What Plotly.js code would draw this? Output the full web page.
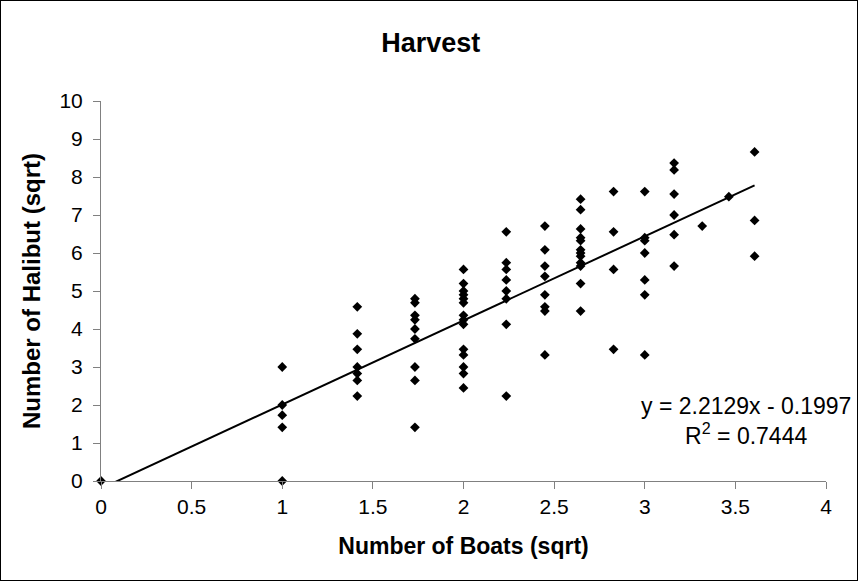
<!DOCTYPE html>
<html>
<head>
<meta charset="utf-8">
<script src="https://cdn.plot.ly/plotly-3.0.1.min.js"></script>
<style>
  html, body { margin: 0; padding: 0; background: #fff; }
  #chart { width: 856px; height: 579px; border: 1px solid #000; }
</style>
</head>
<body>
<div id="chart"></div>
<script>
// Number of Boats (sqrt) for each point
var boatsSqrt = [
  0,
  1, 1, 1, 1, 1,
  1.414, 1.414, 1.414, 1.414, 1.414, 1.414, 1.414,
  1.732, 1.732, 1.732, 1.732, 1.732, 1.732, 1.732, 1.732, 1.732,
  2, 2, 2, 2, 2, 2, 2, 2, 2, 2, 2, 2, 2, 2,
  2.236, 2.236, 2.236, 2.236, 2.236, 2.236, 2.236, 2.236,
  2.449, 2.449, 2.449, 2.449, 2.449, 2.449, 2.449, 2.449,
  2.646, 2.646, 2.646, 2.646, 2.646, 2.646, 2.646, 2.646, 2.646, 2.646, 2.646, 2.646,
  2.828, 2.828, 2.828, 2.828,
  3, 3, 3, 3, 3, 3, 3,
  3.162, 3.162, 3.162, 3.162, 3.162, 3.162,
  3.317,
  3.464,
  3.606, 3.606, 3.606
];
// Number of Halibut (sqrt) for each point
var halibutSqrt = [
  0,
  0, 1.414, 1.732, 2, 3,
  4.583, 3.873, 3.464, 3, 2.828, 2.646, 2.236,
  4.796, 4.690, 4.359, 4.243, 4, 3.742, 3, 2.646, 1.414,
  5.568, 5.196, 5, 4.899, 4.796, 4.690, 4.359, 4.243, 4.123, 3.464, 3.317, 3, 2.828, 2.449,
  6.557, 5.745, 5.568, 5.292, 5, 4.796, 4.123, 2.236,
  6.708, 6.083, 5.657, 5.385, 4.899, 4.583, 4.472, 3.317,
  7.416, 7.141, 6.633, 6.403, 6.325, 6.083, 6, 5.916, 5.745, 5.657, 5.196, 4.472,
  7.616, 6.557, 5.568, 3.464,
  7.616, 6.403, 6.325, 6, 5.292, 4.899, 3.317,
  8.367, 8.185, 7.550, 7, 6.481, 5.657,
  6.708,
  7.483,
  8.660, 6.856, 5.916
];
// Linear trendline as printed on the chart
var trendSlope = 2.2129;
var trendIntercept = -0.1997;
var trendText = "y = 2.2129x - 0.1997<br>R<sup>2</sup> = 0.7444";

var xMin = Math.min.apply(null, boatsSqrt);
var xMax = Math.max.apply(null, boatsSqrt);
var trendX = [xMin, xMax];
var trendY = trendX.map(function (v) { return trendSlope * v + trendIntercept; });

var FONT = "Arial, 'Liberation Sans', sans-serif";
var AXIS_GRAY = "#808080";

var traces = [
  {
    x: trendX, y: trendY, type: "scatter", mode: "lines",
    line: { color: "#000", width: 2 },
    cliponaxis: true, hoverinfo: "skip", showlegend: false
  },
  {
    x: boatsSqrt, y: halibutSqrt, type: "scatter", mode: "markers",
    marker: { symbol: "diamond", size: 7.5, color: "#000" },
    cliponaxis: false, showlegend: false
  }
];

var layout = {
  width: 856, height: 579,
  margin: { l: 100, r: 31, t: 100, b: 99 },
  paper_bgcolor: "#fff", plot_bgcolor: "#fff",
  font: { family: FONT, color: "#000", size: 21 },
  title: {
    text: "<b>Harvest</b>",
    font: { family: FONT, size: 27, color: "#000" },
    x: 0.502, xref: "container", xanchor: "center",
    y: 1 - 42 / 579, yref: "container", yanchor: "middle"
  },
  xaxis: {
    range: [0, 4], dtick: 0.5, tick0: 0,
    showgrid: false, zeroline: false,
    showline: true, linecolor: AXIS_GRAY, linewidth: 1,
    ticks: "outside", ticklen: 7, tickcolor: AXIS_GRAY, tickwidth: 1,
    tickfont: { family: FONT, size: 21, color: "#000" },
    title: { text: "<b>Number of Boats (sqrt)</b>", font: { family: FONT, size: 23, color: "#000" }, standoff: 20 }
  },
  yaxis: {
    range: [0, 10], dtick: 1, tick0: 0,
    showgrid: false, zeroline: false,
    showline: true, linecolor: AXIS_GRAY, linewidth: 1,
    ticks: "outside", ticklen: 7, tickcolor: AXIS_GRAY, tickwidth: 1,
    ticklabelstandoff: 6,
    tickfont: { family: FONT, size: 21, color: "#000" },
    title: { text: "<b>Number of Halibut (sqrt)</b>", font: { family: FONT, size: 24, color: "#000" }, standoff: 12 }
  },
  annotations: [
    {
      text: trendText, xref: "x", yref: "y",
      x: 3.556, y: 1.57, xanchor: "center", yanchor: "middle",
      showarrow: false, align: "center",
      font: { family: FONT, size: 23, color: "#000" }
    }
  ]
};

Plotly.newPlot("chart", traces, layout, { displayModeBar: false, staticPlot: true });
</script>
</body>
</html>
